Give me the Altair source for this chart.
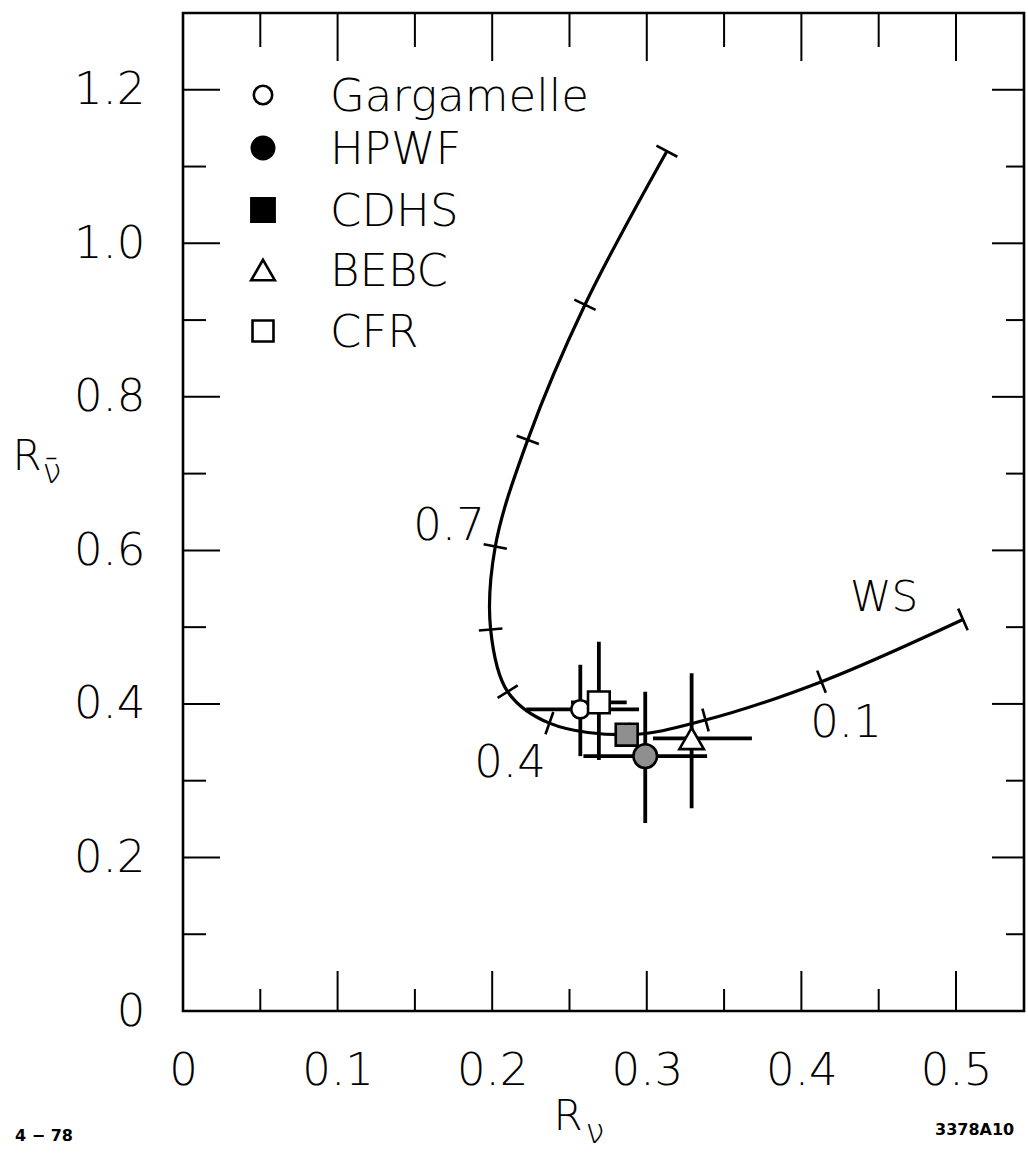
import math
import altair as alt
import pandas as pd

# ---------------- data ----------------
# Weinberg-Salam curve, marked every 0.1 of sin^2(theta_W)
ws_param = [0.0, 0.1, 0.2, 0.3, 0.4, 0.5, 0.6, 0.7, 0.8, 0.9, 1.0]
ws_rnu = [0.5045, 0.413, 0.338, 0.289, 0.237, 0.210, 0.199, 0.202, 0.223, 0.260, 0.313]
ws_rnubar = [0.510, 0.429, 0.379, 0.360, 0.375, 0.416, 0.497, 0.605, 0.744, 0.920, 1.120]

experiments = ["Gargamelle", "HPWF", "CDHS", "BEBC", "CFR"]
r_nu = [0.257, 0.299, 0.287, 0.329, 0.269]
r_nu_lo = [0.222, 0.259, 0.279, 0.304, 0.251]
r_nu_hi = [0.295, 0.339, 0.295, 0.368, 0.287]
r_nubar = [0.393, 0.332, 0.360, 0.355, 0.402]
r_nubar_lo = [0.332, 0.245, 0.347, 0.264, 0.327]
r_nubar_hi = [0.451, 0.416, 0.373, 0.440, 0.481]

x_major = [0.1, 0.2, 0.3, 0.4, 0.5]
x_minor = [0.05, 0.15, 0.25, 0.35, 0.45]
x_labels = [0, 0.1, 0.2, 0.3, 0.4, 0.5]
y_major = [0.2, 0.4, 0.6, 0.8, 1.0, 1.2]
y_minor = [0.1, 0.3, 0.5, 0.7, 0.9, 1.1]
y_labels = [0, 0.2, 0.4, 0.6, 0.8, 1.0, 1.2]

# ---------------- styles / layout ----------------
X_MAX = 0.544
Y_MAX = 1.3
W, H = 841, 998
PAD_L, PAD_T = 183, 13
FONT = "DejaVu Sans"
FW = 300
INK = "black"

shapes = {"Gargamelle": "circle", "HPWF": "circle", "CDHS": "square",
          "BEBC": "triangle-up", "CFR": "square"}
plot_fill = {"Gargamelle": "white", "HPWF": "#8f8f8f", "CDHS": "#8f8f8f",
             "BEBC": "white", "CFR": "white"}
legend_fill = {"Gargamelle": "white", "HPWF": "black", "CDHS": "black",
               "BEBC": "white", "CFR": "white"}
plot_size = {"Gargamelle": 330, "HPWF": 560, "CDHS": 480, "BEBC": 600, "CFR": 470}
legend_size = {"Gargamelle": 340, "HPWF": 500, "CDHS": 540, "BEBC": 560, "CFR": 440}
legend_rows_y = [95, 148, 210, 270, 331]

xscale = alt.Scale(domain=[0, X_MAX], nice=False, zero=False)
yscale = alt.Scale(domain=[0, Y_MAX], nice=False, zero=False)
xaxis = alt.Axis(values=x_labels, title=None, ticks=False, tickSize=0, domain=False,
                 grid=False, labelFontSize=45, labelFont=FONT, labelFontWeight=FW,
                 labelColor=INK, labelPadding=37, labelFlush=False,
                 labelExpr="datum.value == 0 ? '0' : format(datum.value, '.1f')")
yaxis = alt.Axis(values=y_labels, title=None, ticks=False, tickSize=0, domain=False,
                 grid=False, labelFontSize=45, labelFont=FONT, labelFontWeight=FW,
                 labelColor=INK, labelPadding=38, labelFlush=False,
                 labelExpr="datum.value == 0 ? '0' : format(datum.value, '.1f')")


def X(field):
    return alt.X(field, scale=xscale, axis=xaxis)


def Y(field):
    return alt.Y(field, scale=yscale, axis=yaxis)


layers = []

# ---------------- frame ticks (pointing inwards) ----------------
def xticks(vals, length, bottom=True):
    df = pd.DataFrame({"v": vals})
    if bottom:
        enc = dict(y=alt.value(H), y2=alt.value(H - length))
    else:
        enc = dict(y=alt.value(0), y2=alt.value(length))
    return alt.Chart(df).mark_rule(color=INK, strokeWidth=2).encode(x=X("v:Q"), **enc)


def yticks(vals, length, left=True):
    df = pd.DataFrame({"v": vals})
    if left:
        enc = dict(x=alt.value(0), x2=alt.value(length))
    else:
        enc = dict(x=alt.value(W), x2=alt.value(W - length))
    return alt.Chart(df).mark_rule(color=INK, strokeWidth=2).encode(y=Y("v:Q"), **enc)


layers += [
    xticks(x_major, 40, True), xticks(x_minor, 22, True),
    xticks(x_major, 48, False), xticks(x_minor, 34, False),
    yticks(y_major, 37, True), yticks(y_minor, 23, True),
    yticks(y_major, 32, False), yticks(y_minor, 18, False),
]

# ---------------- WS curve ----------------
ppx, ppy = W / X_MAX, H / Y_MAX
angles = []
n = len(ws_param)
for i in range(n):
    a, b = max(i - 1, 0), min(i + 1, n - 1)
    dx = (ws_rnu[b] - ws_rnu[a]) * ppx
    dy = -(ws_rnubar[b] - ws_rnubar[a]) * ppy
    ang = (math.degrees(math.atan2(dy, dx)) + 90.0) % 180.0
    angles.append(ang)

curve = pd.DataFrame({"s": ws_param, "rnu": ws_rnu, "rnubar": ws_rnubar, "ang": angles})
layers.append(
    alt.Chart(curve).mark_line(color=INK, strokeWidth=3.2, interpolate="catmull-rom")
    .encode(x=X("rnu:Q"), y=Y("rnubar:Q"), order="s:Q")
)
layers.append(
    alt.Chart(curve).mark_point(shape="stroke", filled=False, color=INK, strokeWidth=2.6,
                                size=560, opacity=1)
    .encode(x=X("rnu:Q"), y=Y("rnubar:Q"), angle=alt.Angle("ang:Q", scale=None))
)

# ---------------- experimental points ----------------
pts = pd.DataFrame({"exp": experiments, "x": r_nu, "xlo": r_nu_lo, "xhi": r_nu_hi,
                    "y": r_nubar, "ylo": r_nubar_lo, "yhi": r_nubar_hi})
layers.append(
    alt.Chart(pts).mark_rule(color=INK, strokeWidth=3.8)
    .encode(x=X("xlo:Q"), x2="xhi:Q", y=Y("y:Q"))
)
layers.append(
    alt.Chart(pts).mark_rule(color=INK, strokeWidth=3.8)
    .encode(y=Y("ylo:Q"), y2="yhi:Q", x=X("x:Q"))
)
for e in experiments:
    sub = pts[pts["exp"] == e]
    layers.append(
        alt.Chart(sub).mark_point(shape=shapes[e], filled=True, fill=plot_fill[e],
                                  stroke=INK, strokeWidth=2.6, size=plot_size[e], opacity=1)
        .encode(x=X("x:Q"), y=Y("y:Q"))
    )

# ---------------- legend (drawn in the panel) ----------------
for e, ry in zip(experiments, legend_rows_y):
    one = pd.DataFrame({"exp": [e]})
    layers.append(
        alt.Chart(one).mark_point(shape=shapes[e], filled=True, fill=legend_fill[e],
                                  stroke=INK, strokeWidth=2.6, size=legend_size[e], opacity=1)
        .encode(x=alt.value(263 - PAD_L), y=alt.value(ry - PAD_T))
    )
    layers.append(
        alt.Chart(one).mark_text(font=FONT, fontSize=45, fontWeight=FW, color=INK,
                                 align="left", baseline="middle")
        .encode(text="exp:N", x=alt.value(330 - PAD_L), y=alt.value(ry + 2 - PAD_T))
    )


# ---------------- annotations ----------------
def label(txt, x, y, size=45, align="center", weight=FW, baseline="middle"):
    return alt.Chart(pd.DataFrame({"t": [txt]})).mark_text(
        font=FONT, fontSize=size, color=INK, align=align, baseline=baseline,
        fontWeight=weight
    ).encode(text="t:N", x=alt.value(x - PAD_L), y=alt.value(y - PAD_T))


layers += [
    label("WS", 884, 598, 42),
    label("0.1", 846, 723),
    label("0.4", 510, 763),
    label("0.7", 449, 526),
    # axis titles
    label("R", 568, 1117, 42),
    label("ν", 595, 1133, 34),
    label("R", 27, 457, 42),
    label("ν̄", 52, 473, 34),
    # corner marks
    label("4 − 78", 44, 1136, 16, weight="bold"),
    label("3378A10", 935, 1130, 16, align="left", weight="bold"),
]

chart = alt.layer(*layers).properties(
    width=W, height=H,
    autosize=alt.AutoSizeParams(type="none"),
    padding={"left": PAD_L, "top": PAD_T, "right": 1028 - PAD_L - W, "bottom": 1153 - PAD_T - H},
    background="white",
).configure_view(stroke=INK, strokeWidth=2.6)

chart.save("out.html", embed_options={"renderer": "svg", "actions": False})
